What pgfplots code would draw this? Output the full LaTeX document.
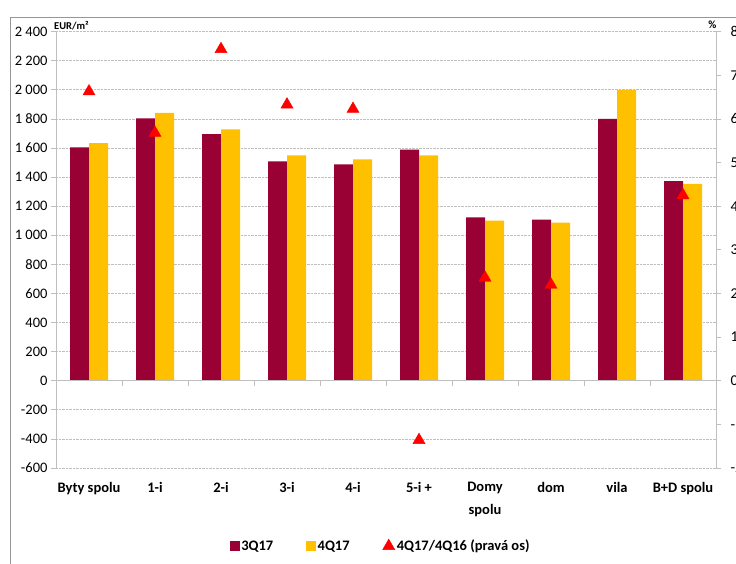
\documentclass[border=0pt]{standalone}
\usepackage{pgfplots}
\pgfplotsset{compat=1.18}
\usepackage{fontspec}
\setmainfont{Carlito}
\definecolor{cA}{RGB}{153,0,51}
\definecolor{cB}{RGB}{255,192,0}
\definecolor{axg}{RGB}{191,191,191}
\definecolor{frm}{RGB}{150,150,150}
\begin{document}
\begin{tikzpicture}[x=1pt,y=1pt]
\useasboundingbox (0,0) rectangle (736,563);
\draw[frm, line width=1pt] (10.5,-10) -- (10.5,545.5) -- (760,545.5);
\begin{axis}[at={(56pt,95pt)}, anchor=south west, scale only axis,
  width=660pt, height=436.3pt,
  xmin=-0.5, xmax=9.5, ymin=-600, ymax=2400,
  axis y line*=left, axis x line*=bottom, x axis line style={draw=none},
  xtick={0,...,9},
  xticklabels={Byty spolu,1-i,2-i,3-i,4-i,5-i +,{Domy\\spolu},dom,vila,B+D spolu},
  xtick style={draw=none},
  ytick={-600,-400,...,2400},
  ymajorgrids, grid style={densely dotted, axg, line width=0.8pt},
  y axis line style={axg, line width=0.8pt}, ytick style={axg, line width=0.8pt},
  tick align=outside, major tick length=5pt,
  ybar=0pt, bar width=19pt,
  /pgf/number format/assume math mode=true,
  /pgf/number format/1000 sep={\ },
  yticklabel style={font=\fontsize{14.5}{16}\selectfont},
  xticklabel style={font=\bfseries\fontsize{14.5}{23}\selectfont, align=center, anchor=north, yshift=-6pt},
  ]
\addplot[fill=cA, draw=none] coordinates {(0,1604)(1,1804)(2,1696)(3,1508)(4,1487)(5,1590)(6,1124)(7,1108)(8,1800)(9,1372)};
\addplot[fill=cB, draw=none] coordinates {(0,1634)(1,1842)(2,1728)(3,1549)(4,1522)(5,1549)(6,1101)(7,1088)(8,2000)(9,1354)};
\end{axis}
\draw[axg, line width=0.8pt] (56,182.26) -- (716,182.26);
\foreach \k in {0,...,10} \draw[axg, line width=0.8pt] ({56+66*\k},182.26) -- ++(0,-5);
\begin{axis}[at={(56pt,95pt)}, anchor=south west, scale only axis,
  width=660pt, height=436.3pt,
  xmin=-0.5, xmax=9.5, ymin=-2, ymax=8,
  axis y line*=right, axis x line=none,
  ytick={-2,...,8},
  y axis line style={axg, line width=0.8pt}, ytick style={axg, line width=0.8pt},
  tick align=outside, major tick length=5pt,
  /pgf/number format/assume math mode=true,
  yticklabel style={font=\fontsize{15}{16}\selectfont, xshift=6pt},
  legend style={at={(0.492,-0.179)}, anchor=center, draw=none, fill=none,
    legend columns=3, font=\bfseries\fontsize{14.5}{16}\selectfont,
    /tikz/every even column/.append style={column sep=31pt}},
  legend cell align=left,
  ]
\addlegendimage{legend image code/.code={\fill[cA] (0pt,-4.5pt) rectangle (9pt,4.5pt);}}
\addlegendentry{3Q17}
\addlegendimage{legend image code/.code={\fill[cB] (0pt,-4.5pt) rectangle (9pt,4.5pt);}}
\addlegendentry{4Q17}
\addplot[only marks, mark=triangle*, mark size=7pt, color=red] coordinates {(0,6.63)(1,5.68)(2,7.60)(3,6.33)(4,6.23)(5,-1.36)(6,2.36)(7,2.20)(9,4.25)};
\addlegendentry{4Q17/4Q16 (pravá os)}
\end{axis}
\node[anchor=base west, font=\bfseries\fontsize{10.5}{12}\selectfont, inner sep=0pt] at (54,533.7) {EUR/m²};
\node[anchor=base east, font=\bfseries\fontsize{11}{12}\selectfont, inner sep=0pt] at (716.5,534) {\%};
\end{tikzpicture}
\end{document}
